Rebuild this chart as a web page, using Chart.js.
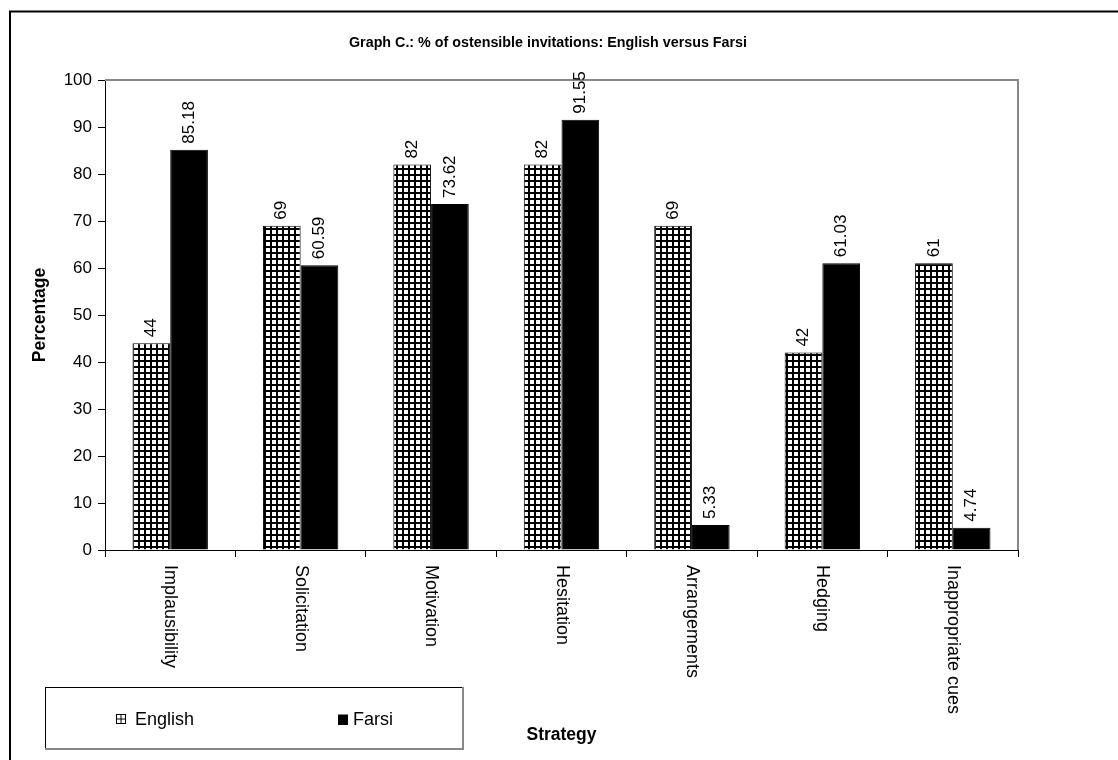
<!DOCTYPE html>
<html>
<head>
<meta charset="utf-8">
<title>Graph C</title>
<script src="https://cdn.jsdelivr.net/npm/chart.js@4"></script>
<style>
  html, body { margin: 0; padding: 0; background: #fff; overflow: hidden; }
</style>
</head>
<body>
<canvas id="myChart" width="1118" height="760"></canvas>
<script>
/* global Chart */

// data
const categories = ["Implausibility", "Solicitation", "Motivation", "Hesitation", "Arrangements", "Hedging", "Inappropriate cues"];
const english = [44, 69, 82, 82, 69, 42, 61];
const farsi = [85.18, 60.59, 73.62, 91.55, 5.33, 61.03, 4.74];
const seriesNames = ["English", "Farsi"];
const yMin = 0;
const yMax = 100;
const yStep = 10;

const titleText = "Graph C.: % of ostensible invitations: English versus Farsi";
const FONT = "'Liberation Sans', Arial, sans-serif";

// small checked fill like the old spreadsheet pattern
function checkPattern(ctx) {
  const c = document.createElement("canvas");
  c.width = 6;
  c.height = 6;
  const g = c.getContext("2d");
  g.fillStyle = "#000";
  g.fillRect(0, 0, 6, 6);
  g.fillStyle = "#fff";
  g.fillRect(2, 2, 4, 4);
  return ctx.createPattern(c, "repeat");
}

const extras = {
  id: "extras",
  afterDraw(chart) {
    const ctx = chart.ctx;
    const area = chart.chartArea;
    ctx.save();

    // outer frame (cut off at right/bottom)
    ctx.strokeStyle = "#000";
    ctx.lineWidth = 2;
    ctx.beginPath();
    ctx.moveTo(10, 760);
    ctx.lineTo(10, 11.5);
    ctx.lineTo(1118, 11.5);
    ctx.stroke();

    // grey top / right border of plot
    ctx.strokeStyle = "#888";
    ctx.lineWidth = 2;
    ctx.beginPath();
    ctx.moveTo(area.left, area.top);
    ctx.lineTo(area.right, area.top);
    ctx.lineTo(area.right, area.bottom);
    ctx.stroke();

    // title
    ctx.fillStyle = "#000";
    ctx.font = "bold 14.3px " + FONT;
    ctx.textAlign = "center";
    ctx.textBaseline = "alphabetic";
    ctx.fillText(titleText, 548, 46.5);

    // category labels, turned clockwise
    const xs = chart.scales.x;
    ctx.font = "18px " + FONT;
    categories.forEach(function (c, i) {
      ctx.save();
      ctx.translate(xs.getPixelForTick(i), area.bottom + 15);
      ctx.rotate(Math.PI / 2);
      ctx.textAlign = "left";
      ctx.textBaseline = "middle";
      ctx.fillText(c, 0, 0);
      ctx.restore();
    });

    // value labels above bars
    ctx.font = "17px " + FONT;
    chart.data.datasets.forEach(function (ds, di) {
      const meta = chart.getDatasetMeta(di);
      meta.data.forEach(function (bar, i) {
        ctx.save();
        ctx.translate(bar.x, bar.y - 6);
        ctx.rotate(-Math.PI / 2);
        ctx.textAlign = "left";
        ctx.textBaseline = "middle";
        ctx.fillText(String(ds.data[i]), 0, 0);
        ctx.restore();
      });
    });

    // legend box
    ctx.lineWidth = 1;
    ctx.strokeStyle = "#000";
    ctx.strokeRect(45.5, 687.5, 417, 61);
    ctx.strokeStyle = "#888";
    ctx.lineWidth = 2;
    ctx.beginPath();
    ctx.moveTo(463, 687);
    ctx.lineTo(463, 749);
    ctx.lineTo(45, 749);
    ctx.stroke();

    // English key
    ctx.lineWidth = 1;
    ctx.strokeStyle = "#000";
    ctx.strokeRect(116.5, 714.5, 9, 9);
    ctx.beginPath();
    ctx.moveTo(121, 714.5);
    ctx.lineTo(121, 723.5);
    ctx.moveTo(116.5, 719);
    ctx.lineTo(125.5, 719);
    ctx.stroke();
    // Farsi key
    ctx.fillRect(338, 714.5, 10, 10.5);

    ctx.font = "18px " + FONT;
    ctx.textAlign = "left";
    ctx.textBaseline = "alphabetic";
    ctx.fillText(seriesNames[0], 135, 725);
    ctx.fillText(seriesNames[1], 353, 725);

    ctx.restore();
  }
};

const ctx = document.getElementById("myChart").getContext("2d");
const myChart = new Chart(ctx, {
  type: "bar",
  data: {
    labels: categories,
    datasets: [
      {
        label: seriesNames[0],
        data: english,
        backgroundColor: checkPattern(ctx),
        borderColor: "#000",
        borderWidth: 1,
      },
      {
        label: seriesNames[1],
        data: farsi,
        backgroundColor: "#000",
        borderColor: "#000",
        borderWidth: 1,
      },
    ],
  },
  options: {
    responsive: false,
    animation: false,
    devicePixelRatio: 1,
    layout: {
      padding: { left: 26, right: 100, top: 80, bottom: 10 },
    },
    datasets: {
      bar: { barPercentage: 1, categoryPercentage: 0.578 },
    },
    plugins: {
      legend: { display: false },
      tooltip: { enabled: false },
      title: { display: false },
    },
    scales: {
      x: {
        grid: { drawOnChartArea: false, color: "#000", tickLength: 7, offset: true },
        border: { color: "#000", width: 1 },
        ticks: { display: false },
        title: {
          display: true,
          text: "Strategy",
          color: "#000",
          font: { family: FONT, size: 17.5, weight: "bold" },
        },
        afterFit: function (scale) {
          scale.height = 200;
        },
      },
      y: {
        min: yMin,
        max: yMax,
        ticks: {
          stepSize: yStep,
          color: "#000",
          padding: 6,
          font: { family: FONT, size: 17 },
        },
        grid: { drawOnChartArea: false, color: "#000", tickLength: 7 },
        border: { color: "#000", width: 1 },
        title: {
          display: true,
          text: "Percentage",
          color: "#000",
          font: { family: FONT, size: 17.5, weight: "bold" },
        },
        afterFit: function (scale) {
          scale.width = 79;
        },
      },
    },
  },
  plugins: [extras],
});
</script>
</body>
</html>
